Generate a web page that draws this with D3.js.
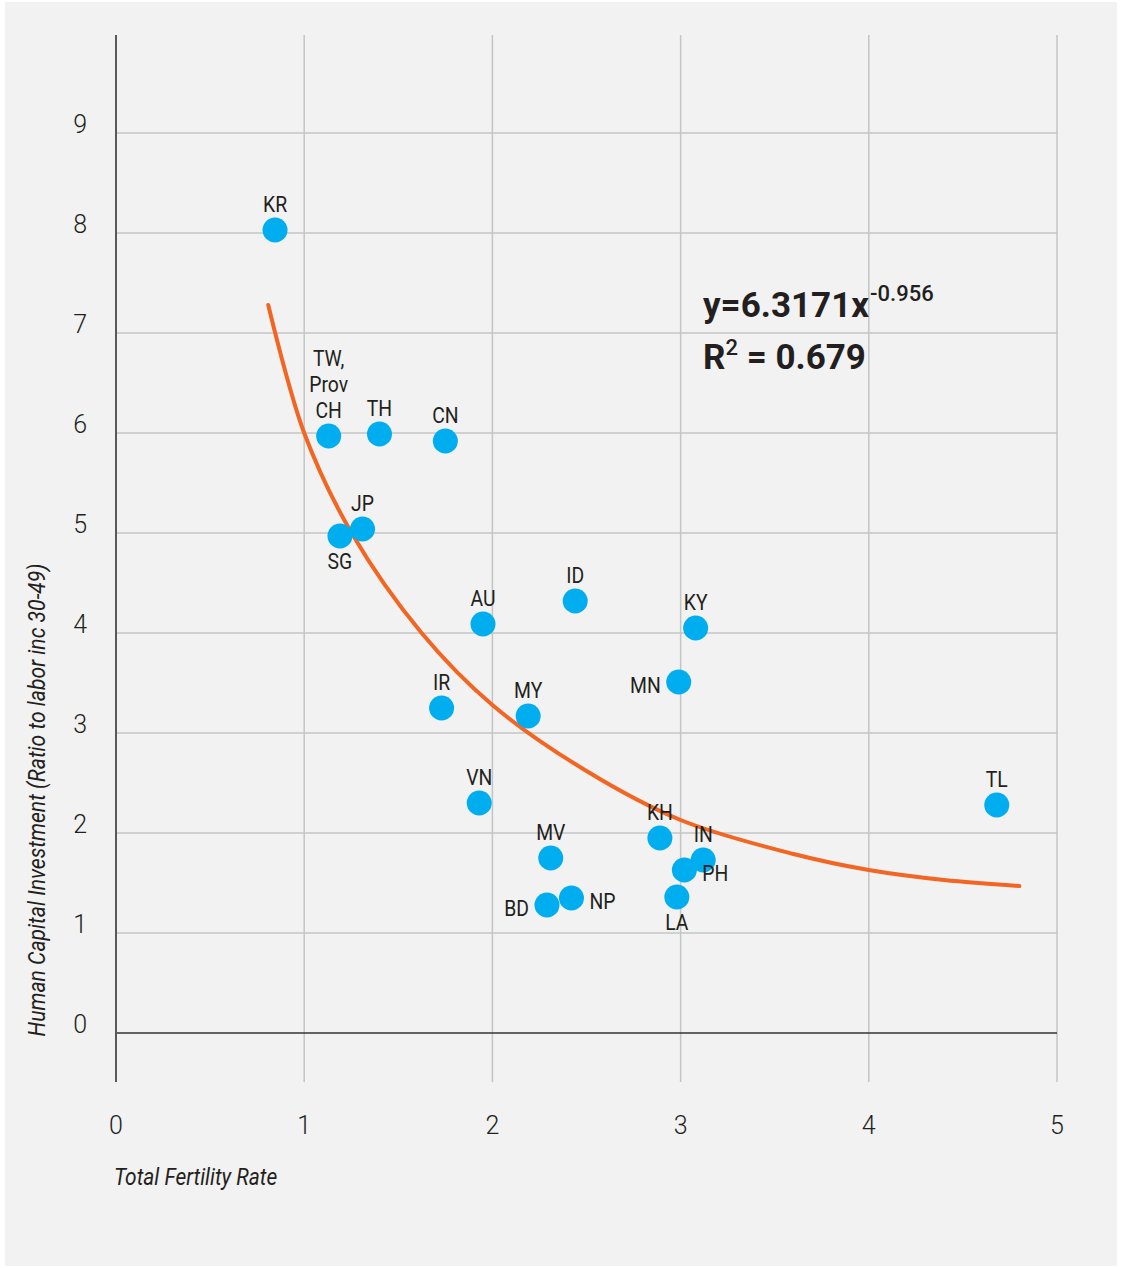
<!DOCTYPE html>
<html><head><meta charset="utf-8">
<script src="https://cdn.jsdelivr.net/npm/d3@7"></script>
<style>
html,body{margin:0;padding:0;background:#fff;}
svg{display:block;font-family:Roboto, "Noto Sans", sans-serif;}
</style></head>
<body><svg id="chart" width="1122" height="1268"></svg>
<script>
// ---- data ----
const countries = ["KR","TW, Prov CH","TH","CN","SG","JP","AU","ID","KY","MN","IR","MY","VN","TL","KH","MV","IN","PH","LA","BD","NP"];
const fertility = [0.845,1.13,1.40,1.75,1.19,1.31,1.95,2.44,3.08,2.99,1.73,2.19,1.93,4.68,2.89,2.31,3.12,3.02,2.98,2.29,2.42];
const investment = [8.03,5.97,5.99,5.92,4.97,5.04,4.09,4.32,4.05,3.51,3.25,3.17,2.30,2.28,1.95,1.75,1.73,1.63,1.36,1.28,1.35];
const labelPos = ["top","top","top","top","bottom","top","top","top","top","left","top","top","top","top","top","top","top","right","bottom","left","right"];
const trendX = [0.809,1.0,1.252,1.624,2.0,2.5,3.0,3.6,4.0,4.4,4.8];
const trendY = [7.28,6.0,5.0,4.0,3.28,2.62,2.13,1.79,1.63,1.53,1.47];
const xTicks = [0,1,2,3,4,5];
const yTicks = [0,1,2,3,4,5,6,7,8,9];
const xTitle = "Total Fertility Rate";
const yTitle = "Human Capital Investment (Ratio to labor inc 30-49)";

// ---- layout ----
const svg = d3.select("#chart");
svg.append("rect").attr("x",5).attr("y",2).attr("width",1112).attr("height",1264).attr("fill","#f1f2f1");

const x = d3.scaleLinear().domain([0,5]).range([116,1057]);
const y = d3.scaleLinear().domain([0,9]).range([1033,133]);
const lineTop = 35, lineBottom = 1082;

// horizontal gridlines
svg.append("g").selectAll("line").data(yTicks.filter(d=>d>0)).join("line")
  .attr("x1",x(0)).attr("x2",x(5)).attr("y1",d=>y(d)).attr("y2",d=>y(d))
  .attr("stroke","#c3c4c4").attr("stroke-width",1.5);
// vertical gridlines
svg.append("g").selectAll("line").data(xTicks.filter(d=>d>0)).join("line")
  .attr("x1",d=>x(d)).attr("x2",d=>x(d)).attr("y1",lineTop).attr("y2",lineBottom)
  .attr("stroke","#c3c4c4").attr("stroke-width",1.5);
// zero line
svg.append("line").attr("x1",x(0)).attr("x2",x(5)).attr("y1",y(0)).attr("y2",y(0))
  .attr("stroke","#333").attr("stroke-width",1.5);
// left axis line
svg.append("line").attr("x1",x(0)).attr("x2",x(0)).attr("y1",lineTop).attr("y2",lineBottom)
  .attr("stroke","#58595b").attr("stroke-width",2);

// tick labels
svg.append("g").selectAll("text").data(yTicks).join("text")
  .attr("x",87).attr("y",d=>y(d)).attr("text-anchor","end")
  .attr("font-size",25).attr("font-weight",300).attr("fill","#231f20").text(d=>d);
svg.append("g").selectAll("text").data(xTicks).join("text")
  .attr("x",d=>x(d)).attr("y",1134).attr("text-anchor","middle")
  .attr("font-size",25).attr("font-weight",300).attr("fill","#231f20").text(d=>d);

// axis titles
svg.append("text").attr("transform","translate(114,1185) scale(0.91,1)")
  .attr("font-size",23).attr("font-style","italic").attr("fill","#231f20").text(xTitle);
svg.append("text").attr("transform","translate(45,800) rotate(-90) scale(0.92,1)")
  .attr("text-anchor","middle").attr("font-size",23).attr("font-style","italic").attr("fill","#231f20").text(yTitle);

// trend curve
const trend = trendX.map((d,i)=>[d,trendY[i]]);
svg.append("path").datum(trend)
  .attr("d", d3.line().x(d=>x(d[0])).y(d=>y(d[1])).curve(d3.curveCatmullRom.alpha(0.5)))
  .attr("fill","none").attr("stroke","#f26522").attr("stroke-width",4).attr("stroke-linecap","round");

// points
const pts = countries.map((c,i)=>({c, fx:fertility[i], iv:investment[i], pos:labelPos[i]}));
svg.append("g").selectAll("circle").data(pts).join("circle")
  .attr("cx",d=>x(d.fx)).attr("cy",d=>y(d.iv)).attr("r",12.5).attr("fill","#00aeef");

// labels
const lg = svg.append("g").attr("font-size",22).attr("fill","#231f20");
pts.forEach(d=>{
  const cx = x(d.fx), cy = y(d.iv);
  let tx = cx, ty = cy, anchor = "middle";
  if (d.pos==="top"){ ty = cy-18; }
  else if (d.pos==="bottom"){ ty = cy+33; }
  else if (d.pos==="left"){ tx = cx-18; ty = cy+11; anchor="end"; }
  else { tx = cx+18; ty = cy+11; anchor="start"; }
  const g = lg.append("g").attr("transform",`translate(${tx},${ty})`);
  const lines = d.c==="TW, Prov CH" ? ["TW,","Prov","CH"] : [d.c];
  lines.forEach((t,k)=>{
    g.append("text").attr("transform",`translate(0,${(k-lines.length+1)*26}) scale(0.88,1)`)
      .attr("text-anchor",anchor).text(t);
  });
});

// equation
const eq = svg.append("g").attr("fill","#231f20").attr("font-weight",700);
const t1 = eq.append("text").attr("x",703).attr("y",317).attr("font-size",35);
t1.append("tspan").text("y=6.3171x");
t1.append("tspan").attr("dx",1).attr("dy",-16).attr("font-size",22).attr("font-weight",500).text("-0.956");
const t2 = eq.append("text").attr("x",703).attr("y",369).attr("font-size",35);
t2.append("tspan").text("R");
t2.append("tspan").attr("dy",-14).attr("font-size",22).attr("font-weight",500).text("2");
t2.append("tspan").attr("dy",14).text(" = 0.679");
</script></body></html>
